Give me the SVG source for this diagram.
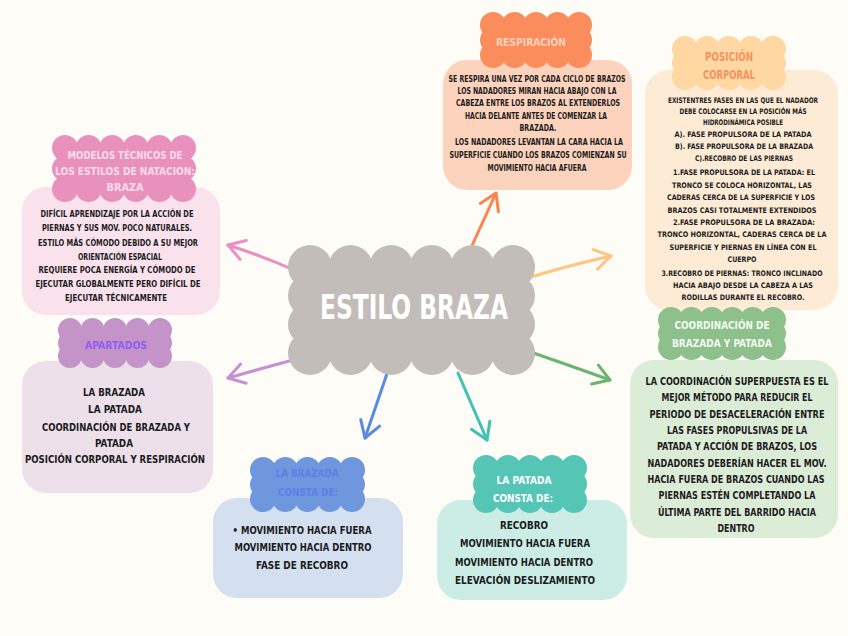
<svg xmlns="http://www.w3.org/2000/svg" width="848" height="636" viewBox="0 0 848 636">
<defs>
<style>
text{font-family:"Liberation Sans Narrow","DejaVu Sans Condensed","Liberation Sans",sans-serif;font-weight:bold;text-anchor:middle}
.b{fill:#1b1b1b}
.conn path{fill:none;stroke-width:3;stroke-linecap:round;stroke-linejoin:round}
</style>
<marker id="mPink" viewBox="-20 -12 24 24" markerWidth="24" markerHeight="24" refX="0" refY="0" markerUnits="userSpaceOnUse" orient="auto"><path d="M-16,-10 L0,0 L-16,10" fill="none" stroke="#eb8fc0" stroke-width="3" stroke-linecap="round" stroke-linejoin="round"/></marker>
<marker id="mOrange" viewBox="-20 -12 24 24" markerWidth="24" markerHeight="24" refX="0" refY="0" markerUnits="userSpaceOnUse" orient="auto"><path d="M-16,-10 L0,0 L-16,10" fill="none" stroke="#fb8450" stroke-width="3" stroke-linecap="round" stroke-linejoin="round"/></marker>
<marker id="mLight" viewBox="-20 -12 24 24" markerWidth="24" markerHeight="24" refX="0" refY="0" markerUnits="userSpaceOnUse" orient="auto"><path d="M-16,-10 L0,0 L-16,10" fill="none" stroke="#fdc57f" stroke-width="3" stroke-linecap="round" stroke-linejoin="round"/></marker>
<marker id="mGreen" viewBox="-20 -12 24 24" markerWidth="24" markerHeight="24" refX="0" refY="0" markerUnits="userSpaceOnUse" orient="auto"><path d="M-16,-10 L0,0 L-16,10" fill="none" stroke="#6cb36f" stroke-width="3" stroke-linecap="round" stroke-linejoin="round"/></marker>
<marker id="mTeal" viewBox="-20 -12 24 24" markerWidth="24" markerHeight="24" refX="0" refY="0" markerUnits="userSpaceOnUse" orient="auto"><path d="M-16,-10 L0,0 L-16,10" fill="none" stroke="#3fc1b3" stroke-width="3" stroke-linecap="round" stroke-linejoin="round"/></marker>
<marker id="mBlue" viewBox="-20 -12 24 24" markerWidth="24" markerHeight="24" refX="0" refY="0" markerUnits="userSpaceOnUse" orient="auto"><path d="M-16,-10 L0,0 L-16,10" fill="none" stroke="#5a8be0" stroke-width="3" stroke-linecap="round" stroke-linejoin="round"/></marker>
<marker id="mPurple" viewBox="-20 -12 24 24" markerWidth="24" markerHeight="24" refX="0" refY="0" markerUnits="userSpaceOnUse" orient="auto"><path d="M-16,-10 L0,0 L-16,10" fill="none" stroke="#c492d4" stroke-width="3" stroke-linecap="round" stroke-linejoin="round"/></marker>
</defs>
<rect width="848" height="636" fill="#fdfcf7"/>

<g id="connectors" class="conn">
<path d="M301,273 Q265,257 228,245" stroke="#eb8fc0" marker-end="url(#mPink)"/>
<path d="M470,250 L496,193" stroke="#fb8450" marker-end="url(#mOrange)"/>
<path d="M531,277 Q570,265 611,256" stroke="#fdc57f" marker-end="url(#mLight)"/>
<path d="M513,346 Q560,362 610,380" stroke="#6cb36f" marker-end="url(#mGreen)"/>
<path d="M458,373 L487,440" stroke="#3fc1b3" marker-end="url(#mTeal)"/>
<path d="M391,362 L365,438" stroke="#5a8be0" marker-end="url(#mBlue)"/>
<path d="M312,355 Q270,366 228,378" stroke="#c492d4" marker-end="url(#mPurple)"/>
</g>

<g id="center">
<g fill="#c3bdb9">
<rect x="310" y="267" width="203" height="86"/>
<circle cx="310" cy="267" r="22"/><circle cx="350.6" cy="267" r="22"/><circle cx="391.2" cy="267" r="22"/><circle cx="431.8" cy="267" r="22"/><circle cx="472.4" cy="267" r="22"/><circle cx="513" cy="267" r="22"/>
<circle cx="310" cy="353" r="22"/><circle cx="350.6" cy="353" r="22"/><circle cx="391.2" cy="353" r="22"/><circle cx="431.8" cy="353" r="22"/><circle cx="472.4" cy="353" r="22"/><circle cx="513" cy="353" r="22"/>
<circle cx="310" cy="295.7" r="22"/><circle cx="310" cy="324.3" r="22"/><circle cx="513" cy="295.7" r="22"/><circle cx="513" cy="324.3" r="22"/>
</g>
<text x="414" y="319" font-size="33" fill="#ffffff" textLength="188" lengthAdjust="spacingAndGlyphs">ESTILO BRAZA</text>
</g>

<g id="respiracion">
<rect x="443" y="60" width="189" height="130" rx="24" fill="#fed3bd"/>
<g fill="#fb8c5c">
<rect x="493" y="25" width="86" height="30"/>
<circle cx="493" cy="25" r="13"/><circle cx="514.5" cy="25" r="13"/><circle cx="536" cy="25" r="13"/><circle cx="557.5" cy="25" r="13"/><circle cx="579" cy="25" r="13"/>
<circle cx="493" cy="55" r="13"/><circle cx="514.5" cy="55" r="13"/><circle cx="536" cy="55" r="13"/><circle cx="557.5" cy="55" r="13"/><circle cx="579" cy="55" r="13"/>
<circle cx="493" cy="40" r="13"/><circle cx="579" cy="40" r="13"/>
</g>
<text x="531" y="46" font-size="11" fill="#fdd3bc" textLength="70" lengthAdjust="spacingAndGlyphs">RESPIRACIÓN</text>
<g class="b" font-size="8.2">
<text x="537" y="82" textLength="177" lengthAdjust="spacingAndGlyphs">SE RESPIRA UNA VEZ POR CADA CICLO DE BRAZOS</text>
<text x="537" y="94" textLength="159" lengthAdjust="spacingAndGlyphs">LOS NADADORES MIRAN HACIA ABAJO CON LA</text>
<text x="538" y="106" textLength="164" lengthAdjust="spacingAndGlyphs">CABEZA ENTRE LOS BRAZOS AL EXTENDERLOS</text>
<text x="536" y="118.5" textLength="142" lengthAdjust="spacingAndGlyphs">HACIA DELANTE ANTES DE COMENZAR LA</text>
<text x="538" y="131" textLength="37" lengthAdjust="spacingAndGlyphs">BRAZADA.</text>
<text x="539" y="145" textLength="168" lengthAdjust="spacingAndGlyphs">LOS NADADORES LEVANTAN LA CARA HACIA LA</text>
<text x="538" y="158" textLength="177" lengthAdjust="spacingAndGlyphs">SUPERFICIE CUANDO LOS BRAZOS COMIENZAN SU</text>
<text x="537" y="171" textLength="99" lengthAdjust="spacingAndGlyphs">MOVIMIENTO HACIA AFUERA</text>
</g>
</g>

<g id="posicion">
<rect x="645" y="70" width="193" height="240" rx="24" fill="#fdebd6"/>
<g fill="#fed7a3">
<rect x="685" y="49" width="88" height="28"/>
<circle cx="685" cy="49" r="13"/><circle cx="707" cy="49" r="13"/><circle cx="729" cy="49" r="13"/><circle cx="751" cy="49" r="13"/><circle cx="773" cy="49" r="13"/>
<circle cx="685" cy="77" r="13"/><circle cx="707" cy="77" r="13"/><circle cx="729" cy="77" r="13"/><circle cx="751" cy="77" r="13"/><circle cx="773" cy="77" r="13"/>
<circle cx="685" cy="63" r="13"/><circle cx="773" cy="63" r="13"/>
</g>
<text x="729" y="60.5" font-size="12.5" fill="#f7935d" textLength="48" lengthAdjust="spacingAndGlyphs">POSICIÓN</text>
<text x="729" y="78.5" font-size="12.5" fill="#f7935d" textLength="52" lengthAdjust="spacingAndGlyphs">CORPORAL</text>
<g class="b" font-size="7.6">
<text x="743" y="103" textLength="150" lengthAdjust="spacingAndGlyphs">EXISTENTRES FASES EN LAS QUE EL NADADOR</text>
<text x="743" y="114" textLength="127" lengthAdjust="spacingAndGlyphs">DEBE COLOCARSE EN LA POSICIÓN MÁS</text>
<text x="743" y="125" textLength="80" lengthAdjust="spacingAndGlyphs">HIDRODINÁMICA POSIBLE</text>
<text x="743" y="137" textLength="137" lengthAdjust="spacingAndGlyphs">A). FASE PROPULSORA DE LA PATADA</text>
<text x="744" y="149" textLength="138" lengthAdjust="spacingAndGlyphs">B). FASE PROPULSORA DE LA BRAZADA</text>
<text x="744" y="161" textLength="98" lengthAdjust="spacingAndGlyphs">C).RECOBRO DE LAS PIERNAS</text>
<text x="744" y="175" textLength="142" lengthAdjust="spacingAndGlyphs">1.FASE PROPULSORA DE LA PATADA: EL</text>
<text x="742" y="188" textLength="140" lengthAdjust="spacingAndGlyphs">TRONCO SE COLOCA HORIZONTAL, LAS</text>
<text x="741" y="200" textLength="148" lengthAdjust="spacingAndGlyphs">CADERAS CERCA DE LA SUPERFICIE Y LOS</text>
<text x="742" y="213" textLength="149" lengthAdjust="spacingAndGlyphs">BRAZOS CASI TOTALMENTE EXTENDIDOS</text>
<text x="744" y="225" textLength="142" lengthAdjust="spacingAndGlyphs">2.FASE PROPULSORA DE LA BRAZADA:</text>
<text x="742" y="237" textLength="169" lengthAdjust="spacingAndGlyphs">TRONCO HORIZONTAL, CADERAS CERCA DE LA</text>
<text x="743" y="250" textLength="147" lengthAdjust="spacingAndGlyphs">SUPERFICIE Y PIERNAS EN LÍNEA CON EL</text>
<text x="742" y="262" textLength="29" lengthAdjust="spacingAndGlyphs">CUERPO</text>
<text x="742" y="276" textLength="161" lengthAdjust="spacingAndGlyphs">3.RECOBRO DE PIERNAS: TRONCO INCLINADO</text>
<text x="743" y="288" textLength="140" lengthAdjust="spacingAndGlyphs">HACIA ABAJO DESDE LA CABEZA A LAS</text>
<text x="743" y="300" textLength="123" lengthAdjust="spacingAndGlyphs">RODILLAS DURANTE EL RECOBRO.</text>
</g>
</g>

<g id="modelos">
<rect x="22" y="187" width="198" height="128" rx="24" fill="#fae2ed"/>
<g fill="#e991bd">
<rect x="65" y="148" width="118" height="41"/>
<circle cx="65" cy="148" r="13"/><circle cx="88.6" cy="148" r="13"/><circle cx="112.2" cy="148" r="13"/><circle cx="135.8" cy="148" r="13"/><circle cx="159.4" cy="148" r="13"/><circle cx="183" cy="148" r="13"/>
<circle cx="65" cy="189" r="13"/><circle cx="88.6" cy="189" r="13"/><circle cx="112.2" cy="189" r="13"/><circle cx="135.8" cy="189" r="13"/><circle cx="159.4" cy="189" r="13"/><circle cx="183" cy="189" r="13"/>
<circle cx="65" cy="168.5" r="13"/><circle cx="183" cy="168.5" r="13"/>
</g>
<g font-size="10" fill="#fbdcea">
<text x="125" y="158.5" textLength="115" lengthAdjust="spacingAndGlyphs">MODELOS TÉCNICOS DE</text>
<text x="125" y="174.5" textLength="140" lengthAdjust="spacingAndGlyphs">LOS ESTILOS DE NATACION:</text>
<text x="125" y="190.5" textLength="37" lengthAdjust="spacingAndGlyphs">BRAZA</text>
</g>
<g class="b" font-size="9.5">
<text x="117" y="216.5" textLength="153" lengthAdjust="spacingAndGlyphs">DIFÍCIL APRENDIZAJE POR LA ACCIÓN DE</text>
<text x="117" y="230.5" textLength="150" lengthAdjust="spacingAndGlyphs">PIERNAS Y SUS MOV. POCO NATURALES.</text>
<text x="118" y="245.5" textLength="160" lengthAdjust="spacingAndGlyphs">ESTILO MÁS CÓMODO DEBIDO A SU MEJOR</text>
<text x="120" y="259.5" textLength="84" lengthAdjust="spacingAndGlyphs">ORIENTACIÓN ESPACIAL</text>
<text x="117" y="272.5" textLength="157" lengthAdjust="spacingAndGlyphs">REQUIERE POCA ENERGÍA Y CÓMODO DE</text>
<text x="118" y="286.5" textLength="165" lengthAdjust="spacingAndGlyphs">EJECUTAR GLOBALMENTE PERO DIFÍCIL DE</text>
<text x="116" y="300.5" textLength="102" lengthAdjust="spacingAndGlyphs">EJECUTAR TÉCNICAMENTE</text>
</g>
</g>

<g id="apartados">
<rect x="22" y="361" width="191" height="132" rx="24" fill="#ede0eb"/>
<g fill="#c494c8">
<rect x="70" y="330" width="90" height="26"/>
<circle cx="70" cy="330" r="12"/><circle cx="92.5" cy="330" r="12"/><circle cx="115" cy="330" r="12"/><circle cx="137.5" cy="330" r="12"/><circle cx="160" cy="330" r="12"/>
<circle cx="70" cy="356" r="12"/><circle cx="92.5" cy="356" r="12"/><circle cx="115" cy="356" r="12"/><circle cx="137.5" cy="356" r="12"/><circle cx="160" cy="356" r="12"/>
<circle cx="70" cy="343" r="12"/><circle cx="160" cy="343" r="12"/>
</g>
<text x="116" y="349" font-size="11" fill="#8e5ff0" textLength="62" lengthAdjust="spacingAndGlyphs">APARTADOS</text>
<g class="b" font-size="10.5">
<text x="114" y="396" textLength="62" lengthAdjust="spacingAndGlyphs">LA BRAZADA</text>
<text x="115" y="413" textLength="54" lengthAdjust="spacingAndGlyphs">LA PATADA</text>
<text x="116" y="431" textLength="148" lengthAdjust="spacingAndGlyphs">COORDINACIÓN DE BRAZADA Y</text>
<text x="114" y="447" textLength="38" lengthAdjust="spacingAndGlyphs">PATADA</text>
<text x="115" y="463" textLength="180" lengthAdjust="spacingAndGlyphs">POSICIÓN CORPORAL Y RESPIRACIÓN</text>
</g>
</g>

<g id="coordinacion">
<rect x="630" y="360" width="208" height="178" rx="24" fill="#dbecd7"/>
<g fill="#8dc08b">
<rect x="671" y="320" width="102" height="27"/>
<circle cx="671" cy="320" r="13"/><circle cx="691.4" cy="320" r="13"/><circle cx="711.8" cy="320" r="13"/><circle cx="732.2" cy="320" r="13"/><circle cx="752.6" cy="320" r="13"/><circle cx="773" cy="320" r="13"/>
<circle cx="671" cy="347" r="13"/><circle cx="691.4" cy="347" r="13"/><circle cx="711.8" cy="347" r="13"/><circle cx="732.2" cy="347" r="13"/><circle cx="752.6" cy="347" r="13"/><circle cx="773" cy="347" r="13"/>
<circle cx="671" cy="333.5" r="13"/><circle cx="773" cy="333.5" r="13"/>
</g>
<text x="722" y="329" font-size="10.5" fill="#f4faf2" textLength="95" lengthAdjust="spacingAndGlyphs">COORDINACIÓN DE</text>
<text x="722" y="347" font-size="10.5" fill="#f4faf2" textLength="100" lengthAdjust="spacingAndGlyphs">BRAZADA Y PATADA</text>
<g class="b" font-size="9.8">
<text x="737" y="385" textLength="183" lengthAdjust="spacingAndGlyphs">LA COORDINACIÓN SUPERPUESTA ES EL</text>
<text x="737" y="401" textLength="151" lengthAdjust="spacingAndGlyphs">MEJOR MÉTODO PARA REDUCIR EL</text>
<text x="737" y="418" textLength="175" lengthAdjust="spacingAndGlyphs">PERIODO DE DESACELERACIÓN ENTRE</text>
<text x="737" y="434" textLength="140" lengthAdjust="spacingAndGlyphs">LAS FASES PROPULSIVAS DE LA</text>
<text x="737" y="450" textLength="160" lengthAdjust="spacingAndGlyphs">PATADA Y ACCIÓN DE BRAZOS, LOS</text>
<text x="737" y="467" textLength="179" lengthAdjust="spacingAndGlyphs">NADADORES DEBERÍAN HACER EL MOV.</text>
<text x="736" y="483" textLength="177" lengthAdjust="spacingAndGlyphs">HACIA FUERA DE BRAZOS CUANDO LAS</text>
<text x="737" y="499" textLength="157" lengthAdjust="spacingAndGlyphs">PIERNAS ESTÉN COMPLETANDO LA</text>
<text x="737" y="516" textLength="158" lengthAdjust="spacingAndGlyphs">ÚLTIMA PARTE DEL BARRIDO HACIA</text>
<text x="736" y="532" textLength="37" lengthAdjust="spacingAndGlyphs">DENTRO</text>
</g>
</g>

<g id="brazada">
<rect x="213" y="498" width="190" height="100" rx="24" fill="#d4dff0"/>
<g fill="#6e97dd">
<rect x="263" y="470" width="89" height="29"/>
<circle cx="263" cy="470" r="13"/><circle cx="285.25" cy="470" r="13"/><circle cx="307.5" cy="470" r="13"/><circle cx="329.75" cy="470" r="13"/><circle cx="352" cy="470" r="13"/>
<circle cx="263" cy="499" r="13"/><circle cx="285.25" cy="499" r="13"/><circle cx="307.5" cy="499" r="13"/><circle cx="329.75" cy="499" r="13"/><circle cx="352" cy="499" r="13"/>
<circle cx="263" cy="484.5" r="13"/><circle cx="352" cy="484.5" r="13"/>
</g>
<text x="307" y="477" font-size="10.5" fill="#5d80e8" textLength="63" lengthAdjust="spacingAndGlyphs">LA BRAZADA</text>
<text x="308" y="496" font-size="10.5" fill="#5d80e8" textLength="60" lengthAdjust="spacingAndGlyphs">CONSTA DE:</text>
<g class="b" font-size="11">
<text x="302" y="534" textLength="139" lengthAdjust="spacingAndGlyphs">• MOVIMIENTO HACIA FUERA</text>
<text x="303" y="551" textLength="137" lengthAdjust="spacingAndGlyphs">MOVIMIENTO HACIA DENTRO</text>
<text x="302" y="569" textLength="92" lengthAdjust="spacingAndGlyphs">FASE DE RECOBRO</text>
</g>
</g>

<g id="patada">
<rect x="437" y="500" width="190" height="100" rx="24" fill="#cbede6"/>
<g fill="#55c6b6">
<rect x="486" y="468" width="88" height="32"/>
<circle cx="486" cy="468" r="13"/><circle cx="508" cy="468" r="13"/><circle cx="530" cy="468" r="13"/><circle cx="552" cy="468" r="13"/><circle cx="574" cy="468" r="13"/>
<circle cx="486" cy="500" r="13"/><circle cx="508" cy="500" r="13"/><circle cx="530" cy="500" r="13"/><circle cx="552" cy="500" r="13"/><circle cx="574" cy="500" r="13"/>
<circle cx="486" cy="484" r="13"/><circle cx="574" cy="484" r="13"/>
</g>
<text x="524" y="484" font-size="10.5" fill="#ffffff" textLength="55" lengthAdjust="spacingAndGlyphs">LA PATADA</text>
<text x="523" y="502" font-size="10.5" fill="#ffffff" textLength="60" lengthAdjust="spacingAndGlyphs">CONSTA DE:</text>
<g class="b" font-size="11">
<text x="524" y="529" textLength="48" lengthAdjust="spacingAndGlyphs">RECOBRO</text>
<text x="525" y="547" textLength="130" lengthAdjust="spacingAndGlyphs">MOVIMIENTO HACIA FUERA</text>
<text x="524" y="566" textLength="138" lengthAdjust="spacingAndGlyphs">MOVIMIENTO HACIA DENTRO</text>
<text x="525" y="584" textLength="140" lengthAdjust="spacingAndGlyphs">ELEVACIÓN DESLIZAMIENTO</text>
</g>
</g>
</svg>
